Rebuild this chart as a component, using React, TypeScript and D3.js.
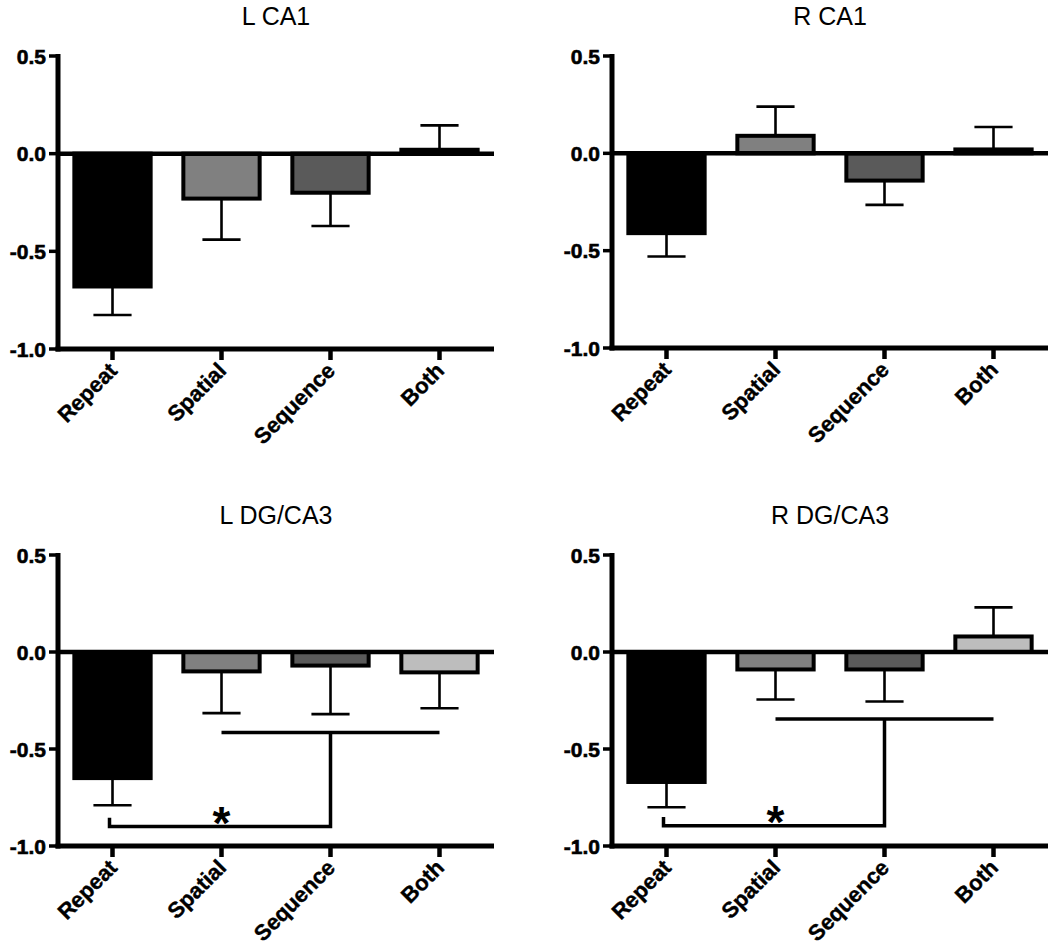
import React from "react";
import * as d3 from "d3";

const categories = ["Repeat", "Spatial", "Sequence", "Both"];
const barColors = ["#000000", "#808080", "#5a5a5a", "#bdbdbd"];
const yTicks = [0.5, 0, -0.5, -1];

const panelTitles = ["L CA1", "R CA1", "L DG/CA3", "R DG/CA3"];
const lCA1Means = [-0.68, -0.23, -0.2, 0.02];
const lCA1Errors = [0.146, 0.21, 0.17, 0.125];
const rCA1Means = [-0.41, 0.09, -0.14, 0.02];
const rCA1Errors = [0.12, 0.15, 0.125, 0.115];
const lDGMeans = [-0.65, -0.1, -0.07, -0.105];
const lDGErrors = [0.14, 0.215, 0.25, 0.185];
const rDGMeans = [-0.67, -0.09, -0.09, 0.08];
const rDGErrors = [0.13, 0.155, 0.165, 0.15];

// significance brackets: [upper bar level, lower bar level, tip level]
const lDGBracket = [-0.415, -0.9, -0.855];
const rDGBracket = [-0.345, -0.895, -0.85];

const FONT = "'Liberation Sans', Arial, sans-serif";
const fmt = (t: number) => d3.format(".1f")(t).replace("−", "-");

type PanelProps = {
  title: string;
  means: number[];
  errors: number[];
  left: number;
  top: number;
  bottom: number;
  bracket?: number[];
};

const Panel = ({ title, means, errors, left, top, bottom, bracket }: PanelProps) => {
  const width = 436;
  const x = d3.scaleBand().domain(categories).range([left, left + width]).paddingInner(0.3).paddingOuter(0.15);
  const y = d3.scaleLinear().domain([-1, 0.5]).range([bottom, top]);
  const bw = x.bandwidth();
  const cx = (c: string) => (x(c) as number) + bw / 2;

  return (
    <g>
      <text x={left + width / 2} y={top - 31} textAnchor="middle" fontFamily={FONT} fontSize={25}>
        {title}
      </text>

      {categories.map((c, i) => {
        const v = means[i];
        const y0 = y(0);
        const y1 = y(v);
        const errEnd = y(v >= 0 ? v + errors[i] : v - errors[i]);
        return (
          <g key={c}>
            <rect
              x={x(c)}
              y={Math.min(y0, y1)}
              width={bw}
              height={Math.abs(y1 - y0)}
              fill={barColors[i]}
              stroke="#000"
              strokeWidth={4}
            />
            <line x1={cx(c)} x2={cx(c)} y1={y1} y2={errEnd} stroke="#000" strokeWidth={2.6} />
            <line x1={cx(c) - bw / 4} x2={cx(c) + bw / 4} y1={errEnd} y2={errEnd} stroke="#000" strokeWidth={2.6} />
          </g>
        );
      })}

      {/* zero line */}
      <line x1={left} x2={left + width} y1={y(0)} y2={y(0)} stroke="#000" strokeWidth={4.5} />

      {/* y axis */}
      <line x1={left} x2={left} y1={y(0.5) - 2} y2={y(-1) + 2.5} stroke="#000" strokeWidth={5} />
      {yTicks.map((t) => (
        <g key={t}>
          <line x1={left - 9} x2={left} y1={y(t)} y2={y(t)} stroke="#000" strokeWidth={3.5} />
          <text
            x={left - 12}
            y={y(t)}
            dy="0.36em"
            textAnchor="end"
            fontFamily={FONT}
            fontWeight="bold"
            fontSize={21}
            stroke="#000"
            strokeWidth={0.6}
          >
            {fmt(t)}
          </text>
        </g>
      ))}

      {/* x axis */}
      <line x1={left - 2.5} x2={left + width} y1={y(-1)} y2={y(-1)} stroke="#000" strokeWidth={5} />
      {categories.map((c) => (
        <g key={c}>
          <line x1={cx(c)} x2={cx(c)} y1={y(-1)} y2={y(-1) + 11} stroke="#000" strokeWidth={4.5} />
          <text
            transform={`translate(${cx(c) + 6},${y(-1) + 23}) rotate(-45)`}
            textAnchor="end"
            fontFamily={FONT}
            fontWeight="bold"
            fontSize={22}
            stroke="#000"
            strokeWidth={0.4}
          >
            {c}
          </text>
        </g>
      ))}

      {bracket && (
        <g fill="none" stroke="#000" strokeWidth={3.5}>
          <line x1={cx("Spatial")} x2={cx("Both")} y1={y(bracket[0])} y2={y(bracket[0])} />
          <path
            d={`M${cx("Sequence")},${y(bracket[0])}V${y(bracket[1])}H${cx("Repeat") - 3}V${y(bracket[2])}`}
          />
        </g>
      )}
      {bracket && (
        <text
          x={cx("Spatial")}
          y={y(bracket[1]) + 12}
          textAnchor="middle"
          fontFamily={FONT}
          fontWeight="bold"
          fontSize={46}
        >
          *
        </text>
      )}
    </g>
  );
};

const App = () => {
  return (
    <svg
      width={1050}
      height={945}
      style={{ position: "absolute", left: 0, top: 0, background: "#fff" }}
    >
      <rect width={1050} height={945} fill="#fff" />
      <Panel title={panelTitles[0]} means={lCA1Means} errors={lCA1Errors} left={58} top={56} bottom={349} />
      <Panel title={panelTitles[1]} means={rCA1Means} errors={rCA1Errors} left={612} top={56} bottom={348} />
      <Panel
        title={panelTitles[2]}
        means={lDGMeans}
        errors={lDGErrors}
        left={58}
        top={555}
        bottom={846}
        bracket={lDGBracket}
      />
      <Panel
        title={panelTitles[3]}
        means={rDGMeans}
        errors={rDGErrors}
        left={612}
        top={555}
        bottom={846}
        bracket={rDGBracket}
      />
    </svg>
  );
};

export default App;
